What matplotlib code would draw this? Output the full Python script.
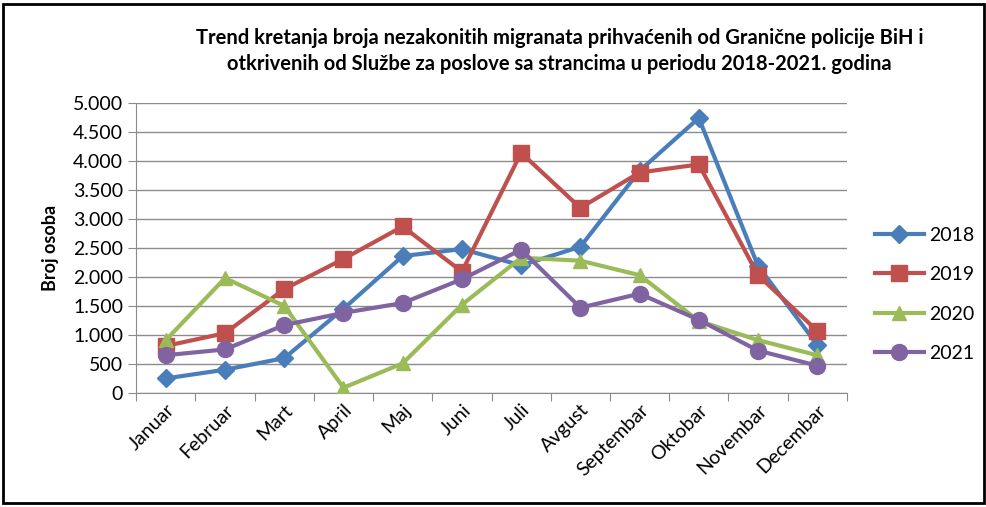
import matplotlib.pyplot as plt
import matplotlib.ticker as mticker
from matplotlib.patches import Rectangle

plt.rcParams['font.family'] = ['Lato', 'DejaVu Sans']

mjeseci = ['Januar', 'Februar', 'Mart', 'April', 'Maj', 'Juni', 'Juli',
           'Avgust', 'Septembar', 'Oktobar', 'Novembar', 'Decembar']
god_2018 = [250, 400, 600, 1450, 2360, 2480, 2200, 2520, 3830, 4740, 2190, 830]
god_2019 = [810, 1030, 1790, 2310, 2870, 2090, 4140, 3190, 3800, 3940, 2030, 1070]
god_2020 = [910, 1980, 1500, 90, 510, 1520, 2330, 2280, 2030, 1240, 910, 650]
god_2021 = [650, 750, 1170, 1380, 1550, 1960, 2470, 1470, 1710, 1260, 730, 470]

serije = [
    ('2018', god_2018, '#4A7EBB', 'D', 9.5),
    ('2019', god_2019, '#C0504D', 's', 11.5),
    ('2020', god_2020, '#9BBB59', '^', 10.5),
    ('2021', god_2021, '#8064A2', 'o', 11.5),
]

fig = plt.figure(figsize=(9.87, 5.07), dpi=100)
ax = fig.add_axes([0.138, 0.225, 0.72, 0.572])

x = list(range(len(mjeseci)))
for naziv, vrijednosti, boja, marker, ms in serije:
    ax.plot(x, vrijednosti, color=boja, linewidth=3, marker=marker,
            markersize=ms, label=naziv, zorder=3)

ax.set_xlim(-0.5, len(mjeseci) - 0.5)
ax.set_ylim(0, 5000)
ax.yaxis.set_major_locator(mticker.MultipleLocator(500))
ax.yaxis.set_major_formatter(mticker.FuncFormatter(
    lambda v, p: f'{int(v):,}'.replace(',', '.')))
ax.grid(axis='y', color='#8c8c8c', linewidth=1)
ax.set_axisbelow(True)

ax.set_xticks([i - 0.5 for i in range(len(mjeseci) + 1)])
ax.set_xticklabels([])
ax.set_xticks(x, minor=True)
ax.set_xticklabels(mjeseci, minor=True, rotation=45, ha='right',
                   rotation_mode='anchor', fontsize=14)
ax.tick_params(axis='x', which='minor', length=0, pad=6)
ax.tick_params(axis='x', which='major', length=6, color='#8c8c8c')
ax.tick_params(axis='y', length=6, color='#8c8c8c', labelsize=14)

for s in ['top', 'right']:
    ax.spines[s].set_visible(False)
for s in ['left', 'bottom']:
    ax.spines[s].set_color('#8c8c8c')

ax.set_ylabel('Broj osoba', fontsize=13, fontweight='bold', labelpad=10)

fig.text(0.567, 0.9,
         'Trend kretanja broja nezakonitih migranata prihvaćenih od Granične policije BiH i\n'
         'otkrivenih od Službe za poslove sa strancima u periodu 2018-2021. godina',
         ha='center', va='center', fontsize=14.5, fontweight='bold', linespacing=1.4)

ax.legend(loc='center left', bbox_to_anchor=(1.015, 0.34), frameon=False,
          fontsize=14, handlelength=2.5, labelspacing=1.15, handletextpad=0.3)

fig.patches.append(Rectangle((0.003, 0.008), 0.994, 0.985, transform=fig.transFigure,
                             fill=False, edgecolor='black', linewidth=2))

fig.savefig('out.png', dpi=100)
